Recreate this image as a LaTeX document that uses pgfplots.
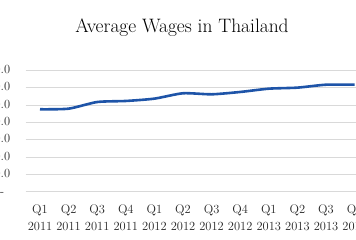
\documentclass[border=0pt]{standalone}
\usepackage{pgfplots}
\pgfplotsset{compat=1.18}
\definecolor{wageblue}{RGB}{30,84,168}
\definecolor{gridgray}{RGB}{217,217,217}
\begin{document}
\begin{tikzpicture}
\useasboundingbox (0,0) rectangle (356bp,240bp);
\clip (0,0) rectangle (356bp,240bp);
\node[font=\fontsize{19.5}{22}\selectfont, anchor=base] at (182bp,207.5bp) {Average Wages in Thailand};
\begin{axis}[
  at={(25.7bp,48.3bp)}, anchor=south west,
  scale only axis, width=343.2bp, height=121.2bp,
  xmin=-0.5, xmax=11.5, ymin=0, ymax=14000,
  axis line style={draw=none},
  scaled y ticks=false,
  ymajorgrids, grid style={gridgray, line width=1bp},
  xtick={0,...,11},
  xticklabels={{Q1\\2011},{Q2\\2011},{Q3\\2011},{Q4\\2011},{Q1\\2012},{Q2\\2012},{Q3\\2012},{Q4\\2012},{Q1\\2013},{Q2\\2013},{Q3\\2013},{Q4\\2013}},
  ytick={0,2000,4000,6000,8000,10000,12000,14000},
  yticklabels={{-\phantom{0}},{2,000.0},{4,000.0},{6,000.0},{8,000.0},{10,000.0},{12,000.0},{14,000.0}},
  major tick length=0pt,
  ticklabel style={font=\fontsize{12.5}{17}\selectfont, text=black!85},
  xticklabel style={align=center, yshift=-10bp},
  yticklabel style={anchor=east, xshift=-12bp},
  clip=false,
]
\addplot[wageblue, line width=2.6bp, smooth, tension=0.4] coordinates {
(0,9520) (1,9590) (2,10360) (3,10480) (4,10750) (5,11370) (6,11250) (7,11520) (8,11900) (9,12020) (10,12360) (11,12360)
};
\end{axis}
\end{tikzpicture}
\end{document}
